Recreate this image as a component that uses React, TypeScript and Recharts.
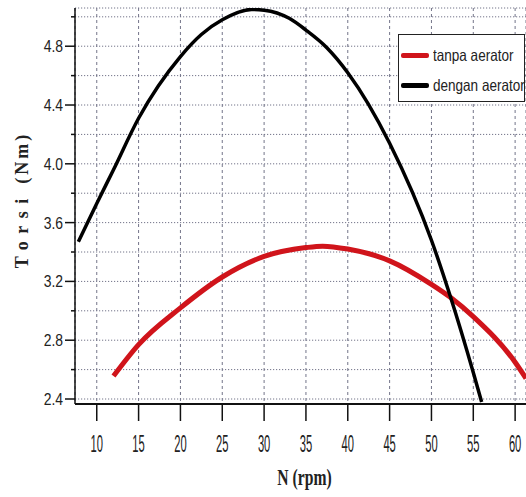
import React from "react";
import { LineChart, Line, XAxis, YAxis, CartesianGrid, Legend } from "recharts";

// tanpa aerator (red)
const tanpaN = [12, 15, 20, 25, 30, 35, 37, 40, 45, 50, 52.3, 55, 60, 61.3];
const tanpaT = [2.556, 2.77, 3.02, 3.23, 3.37, 3.43, 3.44, 3.42, 3.34, 3.18, 3.09, 2.96, 2.65, 2.54];

// dengan aerator (black)
const denganN = [7.8, 10, 12, 15, 20, 22.5, 25, 28.5, 30, 33, 35, 37.5, 40, 45, 50, 52.3, 55, 56];
const denganT = [3.47, 3.73, 3.96, 4.31, 4.73, 4.88, 4.98, 5.05, 5.045, 4.99, 4.91, 4.79, 4.62, 4.14, 3.48, 3.09, 2.58, 2.38];

const xTicks = [10, 15, 20, 25, 30, 35, 40, 45, 50, 55, 60];
const yTicks = [2.4, 2.6, 2.8, 3.0, 3.2, 3.4, 3.6, 3.8, 4.0, 4.2, 4.4, 4.6, 4.8, 5.0];
const yLabelTicks = ["2.4", "2.8", "3.2", "3.6", "4.0", "4.4", "4.8"];

const seriesNames = ["tanpa aerator", "dengan aerator"];
const xTitle = "N (rpm)";
const yTitleMain = "Torsi";
const yTitleUnit = "(Nm)";

const tanpaData = tanpaN.map((n, i) => ({ n, t: tanpaT[i] }));
const denganData = denganN.map((n, i) => ({ n, t: denganT[i] }));

const SANS = "'Liberation Sans', Arial, sans-serif";
const SERIF = "'Liberation Serif', 'Times New Roman', serif";

const YTick = (props: any) => {
  const { x, y, payload } = props;
  const label = payload.value.toFixed(1);
  const major = yLabelTicks.includes(label);
  return (
    <g>
      <line x1={major ? x - 10 : x - 4} x2={x} y1={y} y2={y} stroke="#111" strokeWidth={1.5} />
      {major && (
        <text
          transform={`translate(${x - 12},${y + 6}) scale(0.82,1)`}
          textAnchor="end"
          fontFamily={SANS}
          fontSize={17}
          fill="#222"
        >
          {label}
        </text>
      )}
    </g>
  );
};

const XTick = (props: any) => {
  const { x, y, payload } = props;
  return (
    <g>
      <line x1={x} x2={x} y1={y} y2={y + 17} stroke="#111" strokeWidth={1.5} />
      <text
        transform={`translate(${x},${y + 48}) scale(0.7,1.45)`}
        textAnchor="middle"
        fontFamily={SANS}
        fontSize={16}
        fill="#222"
      >
        {payload.value}
      </text>
    </g>
  );
};

const XTitle = (props: any) => {
  const { viewBox } = props;
  const cx = viewBox.x + viewBox.width / 2 + 4;
  return (
    <text
      transform={`translate(${cx},${viewBox.y + 81}) scale(0.87,1.3)`}
      textAnchor="middle"
      fontFamily={SERIF}
      fontWeight="bold"
      fontSize={18}
      fill="#222"
    >
      {xTitle}
    </text>
  );
};

const YTitle = (props: any) => {
  const { viewBox } = props;
  const cy = viewBox.y + viewBox.height / 2 - 6;
  return (
    <text
      transform={`translate(28,${cy}) rotate(-90)`}
      textAnchor="middle"
      fontFamily={SERIF}
      fontWeight="bold"
      fontSize={18}
      fill="#222"
    >
      <tspan letterSpacing={7.5}>{yTitleMain}</tspan>
      <tspan letterSpacing={3}> {yTitleUnit}</tspan>
    </text>
  );
};

const LegendBox = (props: any) => {
  const items = [...(props.payload || [])].sort(
    (a: any, b: any) => seriesNames.indexOf(a.value) - seriesNames.indexOf(b.value)
  );
  return (
    <div
      style={{
        boxSizing: "border-box",
        width: 127,
        height: 68,
        border: "1.5px solid #222",
        background: "#fff",
        paddingTop: 5,
        overflow: "hidden",
      }}
    >
      {items.map((p: any) => (
        <div key={p.value} style={{ display: "flex", alignItems: "center", height: 30 }}>
          <div
            style={{ flex: "0 0 28px", width: 28, height: 5, background: p.color, marginLeft: 2, borderRadius: 2 }}
          />
          <span
            style={{
              marginLeft: 4,
              fontFamily: SANS,
              fontSize: 16.5,
              color: "#222",
              whiteSpace: "nowrap",
              display: "inline-block",
              transform: "scaleX(0.82)",
              transformOrigin: "left center",
            }}
          >
            {p.value}
          </span>
        </div>
      ))}
    </div>
  );
};

export default function App() {
  return (
    <div style={{ position: "fixed", left: 0, top: 0, width: 526, height: 497, background: "#fff" }}>
      <LineChart width={526} height={497} margin={{ top: 8, right: 0, bottom: 0, left: 0 }}>
        <CartesianGrid vertical={false} stroke="#737489" strokeDasharray="1.2 1.8" strokeWidth={1} />
        <CartesianGrid horizontal={false} stroke="#737489" strokeDasharray="3 3" strokeWidth={1} />
        <XAxis
          type="number"
          dataKey="n"
          domain={[7.4, 61.3]}
          allowDataOverflow
          ticks={xTicks}
          height={93}
          tickLine={false}
          tickSize={0}
          tickMargin={0}
          tick={<XTick />}
          axisLine={{ stroke: "#111", strokeWidth: 2 }}
          label={<XTitle />}
        />
        <YAxis
          type="number"
          domain={[2.366, 5.06]}
          allowDataOverflow
          ticks={yTicks}
          width={75}
          tickLine={false}
          tickSize={0}
          tickMargin={0}
          tick={<YTick />}
          axisLine={{ stroke: "#111", strokeWidth: 1.5 }}
          label={<YTitle />}
        />
        <Legend
          layout="vertical"
          align="center"
          verticalAlign="middle"
          content={<LegendBox />}
          wrapperStyle={{ position: "absolute", left: 398, top: 34, width: 127, height: 68 }}
        />
        <Line
          data={tanpaData}
          dataKey="t"
          name={seriesNames[0]}
          type="monotone"
          stroke="#d0141b"
          strokeWidth={5}
          dot={false}
          isAnimationActive={false}
        />
        <Line
          data={denganData}
          dataKey="t"
          name={seriesNames[1]}
          type="monotone"
          stroke="#000"
          strokeWidth={3.5}
          dot={false}
          isAnimationActive={false}
        />
      </LineChart>
    </div>
  );
}
